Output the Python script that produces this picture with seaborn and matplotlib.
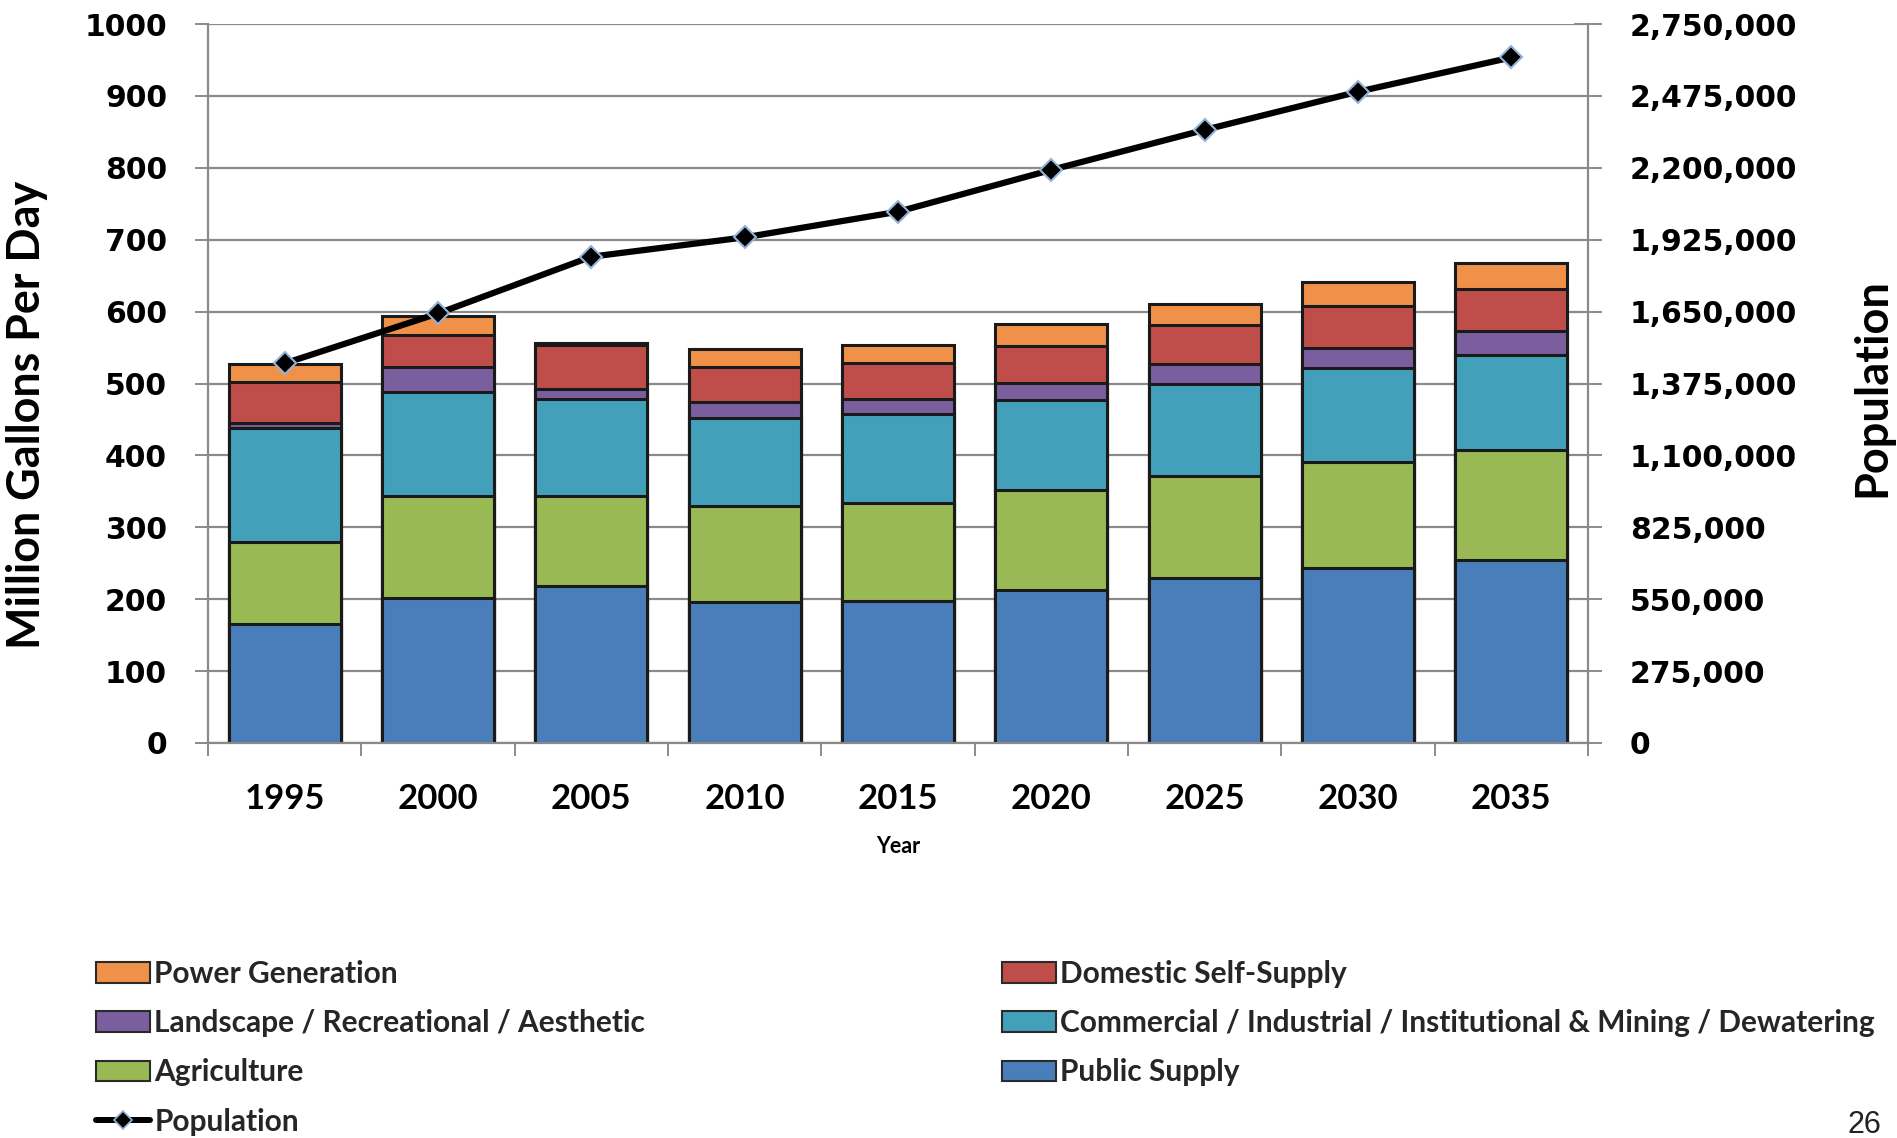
import numpy as np
import matplotlib
matplotlib.use("Agg")
import matplotlib.pyplot as plt
import seaborn as sns
from matplotlib.patches import Patch
from matplotlib.lines import Line2D
from matplotlib.ticker import FixedLocator, FuncFormatter

# Water demand by sector (million gallons per day) and population
years = ["1995", "2000", "2005", "2010", "2015", "2020", "2025", "2030", "2035"]
public_supply = [165, 202, 219, 196, 197, 213, 230, 244, 255]
agriculture = [115, 141, 124, 134, 137, 139, 142, 147, 153]
commercial = [158, 145, 136, 122, 123, 125, 128, 131, 132]
landscape = [7, 35, 14, 22, 22, 24, 27, 28, 33]
domestic = [57, 44, 60, 49, 49, 51, 54, 58, 59]
power = [25, 27, 4, 25, 26, 31, 30, 33, 35]
population = [1452000, 1643000, 1860000, 1934000, 2032000,
              2192000, 2345000, 2491000, 2622000]

sector_names = ["Public Supply", "Agriculture",
                "Commercial / Industrial / Institutional & Mining / Dewatering",
                "Landscape / Recreational / Aesthetic",
                "Domestic Self-Supply", "Power Generation"]
sector_values = [public_supply, agriculture, commercial, landscape, domestic, power]
sector_colors = ["#4A7EBB", "#98B954", "#43A0BA", "#7A5E9E", "#BF4D4A", "#F0914A"]

sns.set_theme(style="white")
plt.rcParams["font.family"] = ["Lato", "DejaVu Sans"]

W, H = 1897, 1138
fig = plt.figure(figsize=(W / 100, H / 100), dpi=100)
x0, x1, y_top, y_bot = 208, 1588, 24, 743
ax = fig.add_axes([x0 / W, 1 - y_bot / H, (x1 - x0) / W, (y_bot - y_top) / H])

grid_gray = "#8a8a8a"
edge_dark = "#1a1a1a"

# Stacked bars: draw cumulative totals from the top layer down
cumulative = np.cumsum(np.array(sector_values, dtype=float), axis=0)
for name, color, top in reversed(list(zip(sector_names, sector_colors, cumulative))):
    sns.barplot(x=years, y=top, color=color, saturation=1, width=0.73,
                edgecolor=edge_dark, linewidth=2.2, errorbar=None, ax=ax, zorder=2)

ax.set_xlim(-0.5, len(years) - 0.5)
ax.set_ylim(0, 1000)
ax.yaxis.set_major_locator(FixedLocator(np.arange(0, 1001, 100)))
ax.yaxis.grid(True, color=grid_gray, lw=1.6)
ax.set_axisbelow(True)

for side in ["top", "right"]:
    ax.spines[side].set_visible(False)
for side in ["left", "bottom"]:
    ax.spines[side].set_color(grid_gray)
    ax.spines[side].set_linewidth(1.6)

ax.tick_params(axis="y", which="major", direction="out", length=9.5, width=1.4,
               color=grid_gray, pad=20, left=True)
for lbl in ax.get_yticklabels():
    lbl.set_fontfamily("DejaVu Sans")
    lbl.set_fontweight("bold")
    lbl.set_fontsize(21.5)
    lbl.set_color("black")

ax.set_xticks(np.arange(len(years)))
ax.set_xticklabels(years, fontsize=25, fontweight="bold", color="black")
ax.set_xticks(np.arange(-0.5, len(years)), minor=True)
ax.tick_params(axis="x", which="major", length=0, pad=29)
ax.tick_params(axis="x", which="minor", direction="out", length=9.5, width=1.4,
               color=grid_gray, bottom=True)

ax.set_xlabel("Year", fontsize=15.5, fontweight="bold", color="black")
ax.xaxis.set_label_coords(0.5, -0.13)
ax.set_ylabel("Million Gallons Per Day", fontsize=32.3, fontweight="bold", color="black")
ax.yaxis.set_label_coords(-0.116, 0.456)

# Population on the secondary axis
ax2 = ax.twinx()
sns.lineplot(x=np.arange(len(years)), y=population, ax=ax2, color="black", lw=4.5,
             marker="D", markersize=11, markerfacecolor="black",
             markeredgecolor="#95B3D7", markeredgewidth=1.5, zorder=5)
ax2.set_ylim(0, 2750000)
ax2.yaxis.set_major_locator(FixedLocator(np.arange(0, 2750001, 275000)))
ax2.yaxis.set_major_formatter(FuncFormatter(lambda v, p: f"{int(round(v)):,}"))
for side in ["top", "left", "bottom"]:
    ax2.spines[side].set_visible(False)
ax2.spines["right"].set_color(grid_gray)
ax2.spines["right"].set_linewidth(1.6)
ax2.tick_params(axis="y", which="major", direction="inout", length=20, width=1.4,
                color=grid_gray, pad=20, right=True)
for lbl in ax2.get_yticklabels():
    lbl.set_fontfamily("DejaVu Sans")
    lbl.set_fontweight("bold")
    lbl.set_fontsize(21.5)
    lbl.set_color("black")
ax2.set_ylabel("Population", fontsize=32.5, fontweight="bold", color="black")
ax2.yaxis.set_label_coords(1.1906, 0.495)
ax2.grid(False)

# Legend in two blocks
def sector_patch(i):
    return Patch(facecolor=sector_colors[i], edgecolor="#2a2a2a", linewidth=1.5,
                 label=sector_names[i])

pop_handle = Line2D([], [], color="black", lw=4.3, marker="D", markersize=9,
                    markerfacecolor="black", markeredgecolor="#95B3D7",
                    markeredgewidth=1.2, label="Population")

legend_kw = dict(loc="upper left", frameon=False, borderpad=0, borderaxespad=0,
                 handlelength=1.8, handleheight=0.7, handletextpad=0.15,
                 labelspacing=0.71, prop={"family": "Lato", "weight": "bold", "size": 21.5})
leg1 = fig.legend(handles=[sector_patch(5), sector_patch(3), sector_patch(1), pop_handle],
                  bbox_to_anchor=(96 / W, 1 - 960 / H), **legend_kw)
leg2 = fig.legend(handles=[sector_patch(4), sector_patch(2), sector_patch(0)],
                  bbox_to_anchor=(1002 / W, 1 - 960 / H), **legend_kw)

fig.text(1881 / W, 1 - 1125 / H, "26", ha="right", va="center",
         fontsize=22, family="Liberation Sans", color="#222222")

fig.savefig("out.png", dpi=100, facecolor="white")
